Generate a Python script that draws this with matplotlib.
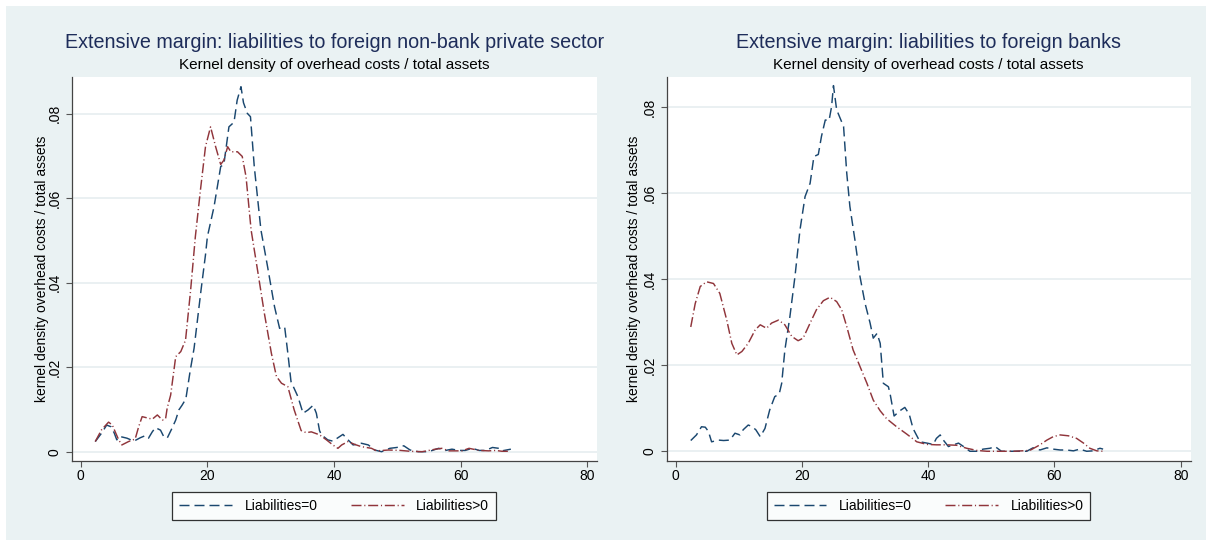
import matplotlib
matplotlib.use("Agg")
import matplotlib.pyplot as plt
from matplotlib.patches import Rectangle

plt.rcParams['font.family'] = ['Liberation Sans', 'DejaVu Sans']
plt.rcParams['lines.scale_dashes'] = False

# --- values ---
titles = ["Extensive margin: liabilities to foreign non-bank private sector",
          "Extensive margin: liabilities to foreign banks"]
subtitle = "Kernel density of overhead costs / total assets"
ylabel = "kernel density overhead costs / total assets"
series_names = ["Liabilities=0", "Liabilities>0"]
xticks = [0, 20, 40, 60, 80]
yticks = [0, 0.02, 0.04, 0.06, 0.08]
ytick_labels = ["0", ".02", ".04", ".06", ".08"]

# panel 1: non-bank private sector
nb_x0 = [2.3, 3.3, 4.1, 4.8, 5.3, 5.7, 6.2, 7.3, 8.4, 9.4, 10.2, 10.7, 11.3, 11.8,
         12.6, 13.1, 13.65, 14.4, 15.0, 15.5, 16.0, 16.6, 17.3, 17.9, 19.0, 19.7,
         20.0, 21.05, 22.1, 22.6, 23.4, 24.2, 24.7, 25.3, 25.7, 26.3, 26.8, 27.4,
         28.45, 29.5, 30.6, 31.4, 32.2, 32.7, 33.2, 34.3, 35.1, 35.9, 36.7, 37.2,
         37.7, 38.0, 39.0, 39.8, 40.9, 41.4, 42.2, 43.0, 44.3, 45.4, 46.4, 47.5,
         48.8, 49.9, 51.0, 52.0, 53.3, 54.9, 56.5, 57.6, 58.6, 59.7, 60.7, 61.8,
         62.9, 63.9, 65.0, 66.0, 66.5, 67.9]
nb_y0 = [0.0024, 0.0044, 0.0063, 0.0059, 0.0044, 0.0028, 0.0036, 0.0032, 0.0025,
         0.0033, 0.0038, 0.0032, 0.0047, 0.0057, 0.0051, 0.0036, 0.0032, 0.0055,
         0.0075, 0.0099, 0.0110, 0.0125, 0.0193, 0.0245, 0.0383, 0.0466, 0.0509,
         0.0580, 0.0675, 0.0680, 0.0769, 0.0780, 0.0832, 0.0864, 0.0826, 0.0801,
         0.0793, 0.0675, 0.0525, 0.0438, 0.0343, 0.0292, 0.0295, 0.0233, 0.0166,
         0.0130, 0.0091, 0.0099, 0.0110, 0.0091, 0.0050, 0.0040, 0.0028, 0.0025,
         0.0036, 0.0041, 0.0028, 0.0016, 0.0020, 0.0016, 0.0004, 0.0, 0.0008,
         0.0010, 0.0014, 0.0004, 0.0, 0.0, 0.0008, 0.0003, 0.0006, 0.0003, 0.0003,
         0.0008, 0.0003, 0.0003, 0.0010, 0.0008, 0.0002, 0.0006]
nb_x1 = [2.3, 3.3, 4.4, 5.0, 5.45, 6.0, 6.5, 7.55, 8.6, 9.15, 9.7, 10.5, 11.3, 12.1,
         12.9, 13.4, 13.65, 14.2, 15.0, 15.8, 16.55, 17.35, 18.1, 18.9, 19.7, 20.5,
         21.3, 22.1, 22.6, 23.2, 23.7, 24.75, 25.5, 26.1, 26.9, 28.0, 29.0, 30.1,
         30.9, 31.7, 32.7, 33.7, 34.8, 35.6, 36.4, 37.7, 38.8, 39.8, 40.6, 41.2,
         42.2, 43.3, 44.3, 45.9, 46.7, 48.6, 50.5, 52.0, 53.9, 56.0, 57.0, 58.1,
         60.2, 61.3, 62.9, 64.4, 65.5, 66.5, 67.8]
nb_y1 = [0.0024, 0.0052, 0.0070, 0.0063, 0.0047, 0.0028, 0.0016, 0.0024, 0.0030,
         0.0059, 0.0083, 0.0080, 0.0077, 0.0087, 0.0075, 0.0078, 0.0103, 0.0134,
         0.0225, 0.0237, 0.0264, 0.0382, 0.0509, 0.0619, 0.0722, 0.0769, 0.0722,
         0.0680, 0.0690, 0.0722, 0.0710, 0.0710, 0.0699, 0.0651, 0.0525, 0.0422,
         0.0327, 0.0233, 0.0178, 0.0162, 0.0154, 0.0099, 0.0050, 0.0045, 0.0047,
         0.0040, 0.0028, 0.0016, 0.0008, 0.0016, 0.0024, 0.0017, 0.0012, 0.0008,
         0.0002, 0.0004, 0.0003, 0.0001, 0.0, 0.0006, 0.0008, 0.0002, 0.0002,
         0.0008, 0.0003, 0.0002, 0.0003, 0.0001, 0.0001]

# panel 2: foreign banks
bk_x0 = [2.4, 3.3, 4.1, 4.7, 5.2, 5.7, 6.8, 7.6, 8.6, 9.4, 10.2, 10.7, 11.5, 12.05,
         12.7, 13.4, 14.15, 14.9, 15.7, 16.4, 16.8, 17.3, 18.1, 18.9, 19.7, 20.5,
         21.3, 21.9, 22.6, 23.1, 23.7, 24.3, 24.7, 25.0, 25.5, 26.6, 27.1, 27.6,
         28.4, 29.2, 30.0, 30.8, 31.3, 31.9, 32.4, 32.9, 33.7, 34.0, 34.6, 35.5,
         36.3, 37.0, 37.6, 38.7, 39.8, 40.8, 41.3, 41.9, 42.4, 43.2, 44.0, 44.8,
         45.6, 46.6, 47.7, 48.7, 49.8, 50.6, 51.6, 53.5, 55.6, 56.6, 57.7, 58.8,
         59.8, 60.9, 61.9, 63.0, 64.0, 65.1, 66.1, 67.2, 67.7]
bk_y0 = [0.0025, 0.0038, 0.0057, 0.0056, 0.0046, 0.0022, 0.0026, 0.0025, 0.0026,
         0.0042, 0.0038, 0.0050, 0.0061, 0.0058, 0.0050, 0.0034, 0.0053, 0.0096,
         0.0127, 0.0133, 0.0158, 0.0235, 0.0313, 0.0406, 0.0515, 0.0592, 0.0623,
         0.0685, 0.0690, 0.0732, 0.0770, 0.0769, 0.0801, 0.0850, 0.0794, 0.0755,
         0.0647, 0.0569, 0.0491, 0.0406, 0.0344, 0.0298, 0.0263, 0.0274, 0.0251,
         0.0158, 0.0150, 0.0131, 0.0082, 0.0094, 0.0102, 0.0086, 0.0053, 0.0022,
         0.0019, 0.0016, 0.0030, 0.0038, 0.0026, 0.0011, 0.0015, 0.0019, 0.0011,
         0.0, 0.0, 0.0005, 0.0007, 0.0011, 0.0, 0.0, 0.0, 0.0008, 0.0003, 0.0008,
         0.0005, 0.0003, 0.0003, 0.0001, 0.0005, 0.0, 0.0001, 0.0007, 0.0005]
bk_x1 = [2.4, 3.1, 3.9, 4.9, 6.0, 7.0, 8.1, 8.9, 9.7, 10.5, 11.5, 12.6, 13.4, 14.4,
         15.2, 16.3, 17.3, 18.4, 19.4, 20.2, 21.3, 22.3, 23.4, 24.45, 25.5, 26.3,
         27.1, 28.1, 29.2, 30.3, 31.3, 32.4, 33.4, 35.0, 36.6, 38.2, 39.8, 41.3,
         42.9, 44.5, 46.1, 47.7, 49.3, 53.5, 56.1, 57.7, 58.8, 59.8, 60.9, 62.2,
         63.5, 64.6, 65.6, 66.7, 67.7]
bk_y1 = [0.0289, 0.0343, 0.0383, 0.0394, 0.0390, 0.0367, 0.0305, 0.0251, 0.0224,
         0.0232, 0.0251, 0.0282, 0.0294, 0.0286, 0.0298, 0.0305, 0.0294, 0.0267,
         0.0257, 0.0263, 0.0298, 0.0329, 0.0350, 0.0358, 0.0348, 0.0329, 0.0290,
         0.0236, 0.0197, 0.0158, 0.0119, 0.0094, 0.0076, 0.0057, 0.0040, 0.0022,
         0.0016, 0.0015, 0.0015, 0.0014, 0.0007, 0.0002, 0.0, 0.0, 0.0002, 0.0015,
         0.0026, 0.0034, 0.0038, 0.0036, 0.0030, 0.0019, 0.0007, 0.0001, 0.0]

panels = [
    (nb_x0, nb_y0, nb_x1, nb_y1),
    (bk_x0, bk_y0, bk_x1, bk_y1),
]

# Stata s2color look
navy = '#1a476f'
maroon = '#90353b'
region_bg = '#eaf2f3'
grid_col = '#e6eef0'

W, H = 1212, 546
fig = plt.figure(figsize=(W / 100, H / 100), dpi=100)
fig.patch.set_facecolor('white')
fig.patches.append(Rectangle((6 / W, 6 / H), (W - 12) / W, (H - 12) / H,
                             transform=fig.transFigure, facecolor=region_bg,
                             edgecolor='none', zorder=-10))

# axes boxes in pixels: left, right; shared top / bottom
boxes = [(71.5, 597.0), (666.7, 1190.5)]
ylab_x = [42.5, 634.0]
top_px, bot_px = 77.0, 460.7
xlims = [(-1.45, 81.5), (-1.41, 81.54)]
ylims = [(-0.00213, 0.0887), (-0.00219, 0.0870)]

for i, (x0, y0, x1, y1) in enumerate(panels):
    l, r = boxes[i]
    ax = fig.add_axes([l / W, (H - bot_px) / H, (r - l) / W, (bot_px - top_px) / H])
    ax.set_facecolor('white')

    ax.plot(x0, y0, color=navy, linewidth=1.05, dashes=(7.2, 3.6),
            label=series_names[0])
    ax.plot(x1, y1, color=maroon, linewidth=1.05, dashes=(7.2, 2.0, 0.8, 2.0),
            label=series_names[1])

    ax.set_xlim(*xlims[i])
    ax.set_ylim(*ylims[i])
    ax.set_xticks(xticks)
    ax.set_yticks(yticks)
    ax.set_yticklabels(ytick_labels, rotation=90, va='center')
    ax.yaxis.grid(True, color=grid_col, linewidth=1.2)
    ax.set_axisbelow(True)

    for side in ['top', 'right']:
        ax.spines[side].set_visible(False)
    for side in ['left', 'bottom']:
        ax.spines[side].set_color('#444444')
        ax.spines[side].set_linewidth(0.9)
    ax.tick_params(axis='both', direction='out', length=4, width=0.8,
                   color='#555555', labelsize=10, labelcolor='black')
    ax.tick_params(axis='x', pad=2)
    ax.tick_params(axis='y', pad=3)

    cx = (l + r) / 2 / W
    fig.text(cx, (H - 42.0) / H, titles[i], ha='center', va='center',
             fontsize=14.2, color='#1e2d5a')
    fig.text(cx, (H - 64.5) / H, subtitle, ha='center', va='center',
             fontsize=11, color='black')
    fig.text(ylab_x[i] / W, (H - (top_px + bot_px) / 2) / H, ylabel,
             rotation=90, ha='center', va='center', fontsize=10)

    leg = ax.legend(loc='center', bbox_to_anchor=(0.5, -(505.8 - bot_px) / (bot_px - top_px)),
                    ncol=2, frameon=True, fancybox=False, fontsize=10,
                    handlelength=3.8, columnspacing=2.4, handletextpad=0.9,
                    borderpad=0.5, borderaxespad=0)
    leg.get_frame().set_edgecolor('black')
    leg.get_frame().set_linewidth(0.9)
    leg.get_frame().set_facecolor('white')

fig.savefig('out.png', dpi=100, facecolor=fig.get_facecolor())
